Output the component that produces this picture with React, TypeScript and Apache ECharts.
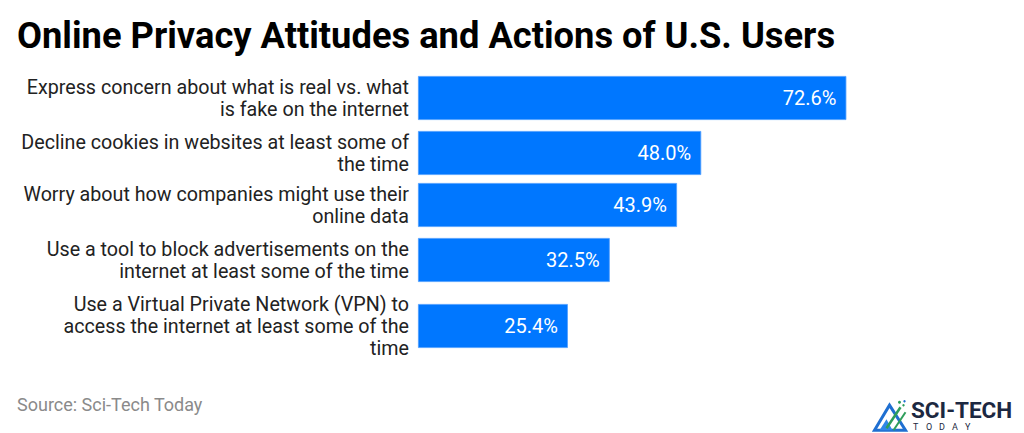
import React, { useEffect, useRef } from "react";
import * as echarts from "echarts";

const TITLE = "Online Privacy Attitudes and Actions of U.S. Users";
const SOURCE = "Source: Sci-Tech Today";
const categories = [
  "Express concern about what is real vs. what\nis fake on the internet",
  "Decline cookies in websites at least some of\nthe time",
  "Worry about how companies might use their\nonline data",
  "Use a tool to block advertisements on the\ninternet at least some of the time",
  "Use a Virtual Private Network (VPN) to\naccess the internet at least some of the\ntime",
];
const values = [72.6, 48.0, 43.9, 32.5, 25.4];

// layout
const ROW_TOPS = [76, 131, 183, 238, 304];
const BAR_H = 44;
const GRID_LEFT = 418;
const GRID_W = 472;
const X_MAX = 80;
const BLUE = "#0077ff";
const FONT = "Roboto, 'Noto Sans', sans-serif";
const LOGO_SUB = ["T", "O", "D", "A", "Y"];

export default function App() {
  const ref = useRef<HTMLDivElement>(null);
  useEffect(() => {
    if (!ref.current) return;
    const chart = echarts.init(ref.current, undefined, { renderer: "svg" });
    const grids = values.map((_, i) => ({
      left: GRID_LEFT,
      top: ROW_TOPS[i],
      width: GRID_W,
      height: BAR_H,
      containLabel: false,
    }));
    const xAxes = values.map((_, i) => ({
      gridIndex: i,
      type: "value" as const,
      min: 0,
      max: X_MAX,
      show: false,
    }));
    const yAxes = values.map((_, i) => ({
      gridIndex: i,
      type: "category" as const,
      data: [categories[i]],
      axisLine: { show: false },
      axisTick: { show: false },
      splitLine: { show: false },
      axisLabel: {
        margin: 9,
        fontSize: 19.7,
        lineHeight: 22,
        padding: [0, 0, 4, 0],
        color: "#222",
        fontFamily: FONT,
        align: "right" as const,
      },
    }));
    const series = values.map((v, i) => ({
      type: "bar" as const,
      xAxisIndex: i,
      yAxisIndex: i,
      data: [v],
      barWidth: BAR_H,
      itemStyle: { color: BLUE, borderColor: "#4d9dff", borderWidth: 0.8 },
      label: {
        show: true,
        position: "insideRight" as const,
        distance: 10,
        formatter: (p: any) => p.value.toFixed(1) + "%",
        color: "#fff",
        fontSize: 20,
        fontFamily: FONT,
      },
    }));
    chart.setOption({
      animation: false,
      backgroundColor: "#fff",
      title: {
        text: TITLE,
        left: 17,
        top: 17,
        padding: 0,
        textStyle: {
          fontSize: 36.3,
          fontWeight: "bold",
          color: "#000",
          fontFamily: FONT,
        },
      },
      grid: grids,
      xAxis: xAxes,
      yAxis: yAxes,
      series,
      graphic: [
        {
          type: "text",
          left: 17,
          top: 395,
          style: { text: SOURCE, fontSize: 18, fill: "#8a8a8a", fontFamily: FONT },
        },
        // logo icon
        {
          type: "group",
          left: 872,
          top: 400,
          children: [
            {
              type: "polygon",
              shape: { points: [[1, 30], [16, 5], [32, 30]] },
              style: { fill: "none", stroke: "#1f6fd1", lineWidth: 3 },
            },
            {
              type: "polygon",
              shape: { points: [[6, 30], [13, 19], [19, 30]] },
              style: { fill: "#2f86e8" },
            },
            {
              type: "line",
              shape: { x1: 13, y1: 28, x2: 27, y2: 7 },
              style: { stroke: "#2e9e5b", lineWidth: 2.5 },
            },
            {
              type: "line",
              shape: { x1: 20, y1: 30, x2: 32, y2: 12 },
              style: { stroke: "#2e9e5b", lineWidth: 2 },
            },
            { type: "circle", shape: { cx: 26, cy: 2, r: 1.5 }, style: { fill: "#2e9e5b" } },
            { type: "circle", shape: { cx: 31, cy: 1, r: 1.2 }, style: { fill: "#1f6fd1" } },
            { type: "circle", shape: { cx: 30, cy: 5, r: 1.2 }, style: { fill: "#2e9e5b" } },
          ],
        },
        {
          type: "text",
          x: 911,
          y: 399,
          style: {
            text: "SCI-TECH",
            fontSize: 22.5,
            lineHeight: 22,
            fontWeight: "bold",
            fill: "#1c2841",
            fontFamily: FONT,
          },
        },
        ...LOGO_SUB.map((ch, i) => ({
          type: "text" as const,
          x: 913 + i * 13,
          y: 422,
          style: {
            text: ch,
            fontSize: 9,
            lineHeight: 9,
            fill: "#1c2841",
            fontFamily: FONT,
          },
        })),
      ],
    });
    return () => chart.dispose();
  }, []);
  return (
    <div
      ref={ref}
      style={{ position: "absolute", left: 0, top: 0, width: 1024, height: 433 }}
    />
  );
}
